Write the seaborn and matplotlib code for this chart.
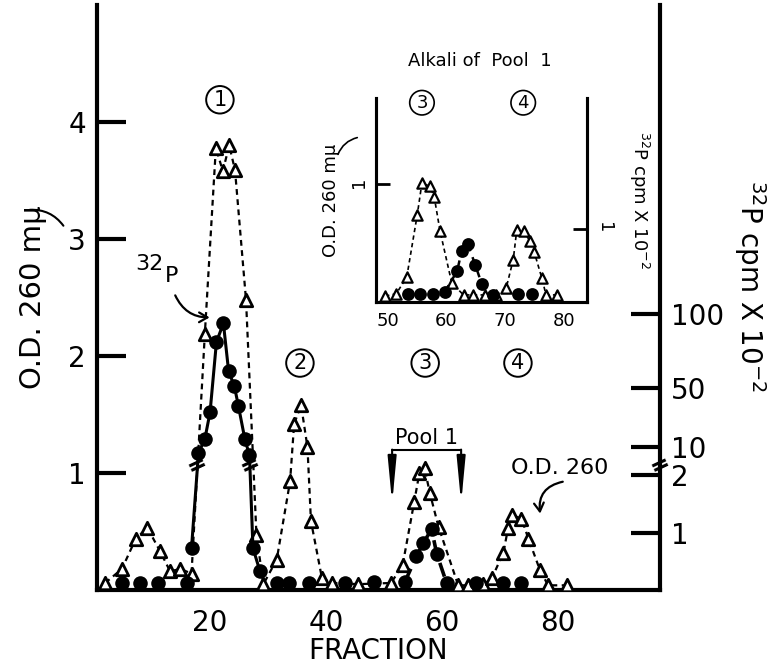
import numpy as np
import pandas as pd
import matplotlib
matplotlib.use("Agg")
import matplotlib.pyplot as plt
from matplotlib.patches import FancyArrowPatch
import seaborn as sns

sns.set_style("white")
plt.rcParams["font.family"] = ["DejaVu Sans"]
plt.rcParams["mathtext.fontset"] = "dejavusans"
for key in ("text.color", "axes.labelcolor", "xtick.color", "ytick.color", "axes.edgecolor"):
    plt.rcParams[key] = "black"

# --- main column: O.D. 260 (open triangles)
od_frac = [1.9, 4.8, 7.2, 9.2, 11.4, 13.1, 14.9, 16.8, 19.1, 21.0, 22.2, 23.3,
           24.3, 26.2, 28.0, 29.2, 31.5, 33.8, 34.5, 35.7, 36.8, 37.4, 39.3, 41.0,
           45.6, 51.2, 53.2, 55.2, 56.1, 57.0, 57.9, 59.4, 62.8, 64.5, 67.1, 68.6,
           70.6, 71.4, 72.1, 73.7, 74.9, 76.9, 78.3, 81.5]
od_val = [0.06, 0.18, 0.44, 0.53, 0.33, 0.16, 0.18, 0.14, 2.19, 3.78, 3.58, 3.80,
          3.59, 2.48, 0.47, 0.05, 0.26, 0.93, 1.42, 1.58, 1.22, 0.59, 0.10, 0.06,
          0.05, 0.06, 0.21, 0.75, 1.00, 1.04, 0.83, 0.54, 0.04, 0.04, 0.05, 0.10,
          0.32, 0.53, 0.64, 0.61, 0.44, 0.17, 0.04, 0.04]

# --- main column: 32P cpm x 10^-2 (filled circles)
p_frac = [4.8, 7.9, 11.1, 16.0, 16.8, 18.0, 19.1, 20.0, 21.1, 22.3, 23.2, 24.2,
          24.9, 26.0, 26.8, 27.4, 28.6, 31.5, 33.7, 37.0, 43.3, 48.3, 53.6, 55.6,
          56.8, 58.2, 59.1, 60.8, 65.9, 70.6, 73.7]
p_cpm = [0.12, 0.12, 0.12, 0.12, 0.73, 6.0, 15.5, 33.7, 81.3, 94.0, 61.5, 51.2,
         37.7, 15.5, 4.4, 0.73, 0.33, 0.12, 0.12, 0.12, 0.12, 0.14, 0.14, 0.59,
         0.82, 1.06, 0.63, 0.12, 0.12, 0.12, 0.12]

# --- inset: alkali of pool 1
in_od_frac = [49.5, 51.4, 53.2, 55.0, 55.8, 57.2, 57.9, 58.9, 60.9, 62.9, 64.5,
              66.6, 68.5, 70.2, 71.4, 72.0, 73.2, 74.2, 75.0, 76.3, 77.0, 78.8]
in_od_val = [0.05, 0.07, 0.21, 0.74, 1.01, 0.98, 0.89, 0.60, 0.16, 0.06, 0.06,
             0.06, 0.06, 0.12, 0.36, 0.61, 0.60, 0.52, 0.42, 0.20, 0.06, 0.06]
in_p_frac = [53.5, 55.5, 57.7, 59.7, 61.8, 62.6, 63.6, 64.9, 66.0, 68.0, 72.2, 74.6]
in_p_cpm = [0.11, 0.11, 0.11, 0.14, 0.42, 0.70, 0.80, 0.51, 0.25, 0.10, 0.11, 0.11]

od = pd.DataFrame({"fraction": od_frac, "od": od_val})
p32 = pd.DataFrame({"fraction": p_frac, "cpm": p_cpm})
in_od = pd.DataFrame({"fraction": in_od_frac, "od": in_od_val})
in_p32 = pd.DataFrame({"fraction": in_p_frac, "cpm": in_p_cpm})


# broken 32P scale: 0-2 on a stretched lower part, 2-300 linear above the break
def cpm_fwd(c):
    c = np.asarray(c, dtype=float)
    return np.where(c <= 2, 0.49 * c, 1.095 + 0.0126 * c)


def cpm_inv(v):
    v = np.asarray(v, dtype=float)
    return np.where(v <= 0.98, v / 0.49,
                    np.where(v >= 1.1202, (v - 1.095) / 0.0126, 2.0))


tri = dict(marker="^", s=80, color="white", edgecolor="black", linewidth=2.0, zorder=4)
dot = dict(marker="o", s=110, color="black", edgecolor="black", linewidth=0, zorder=5)
dash = (0, (2.6, 2.0))

fig = plt.figure(figsize=(7.69, 6.67), dpi=100)
ax = fig.add_axes([97 / 769, 77 / 667, 563 / 769, 585 / 667])
ax.patch.set_alpha(0)

sns.lineplot(data=od, x="fraction", y="od", ax=ax, color="black", lw=1.6,
             linestyle=dash, sort=False, estimator=None, zorder=3)
sns.scatterplot(data=od, x="fraction", y="od", ax=ax, **tri)

ax2 = ax.twinx()
ax2.set_yscale("function", functions=(cpm_fwd, cpm_inv))
peak1 = p32[(p32.fraction > 16.5) & (p32.fraction < 29)]
pool = p32[(p32.fraction > 53) & (p32.fraction < 61)]
sns.lineplot(data=peak1, x="fraction", y="cpm", ax=ax2, color="black", lw=2.2,
             sort=False, estimator=None)
sns.lineplot(data=pool, x="fraction", y="cpm", ax=ax2, color="black", lw=2.6,
             linestyle=(0, (4, 2.5)), sort=False, estimator=None)
sns.scatterplot(data=p32, x="fraction", y="cpm", ax=ax2, **dot)

ax.set_xlim(0.5, 97.6)
ax.set_ylim(0, 5)
ax2.set_ylim(0, float(cpm_inv(5.0)))

for a in (ax, ax2):
    a.spines["top"].set_visible(False)
ax.spines["right"].set_visible(False)
ax2.spines["left"].set_visible(False)
ax2.spines["bottom"].set_visible(False)
for s in ("left", "bottom"):
    ax.spines[s].set_linewidth(3)
ax2.spines["right"].set_linewidth(3)

ax.set_xticks([20, 40, 60, 80])
ax.set_yticks([1, 2, 3, 4])
ax.tick_params(axis="both", direction="in", length=21, width=3, labelsize=20)
ax.tick_params(axis="x", pad=14)
ax.tick_params(axis="y", pad=8)
ax.xaxis.get_major_ticks()[1].tick1line.set_visible(False)
ax2.set_yticks([1, 2, 10, 50, 100])
ax2.set_yticklabels(["1", "2", "10", "50", "100"])
ax2.tick_params(axis="y", direction="in", length=21, width=3, labelsize=20, pad=8)

ax.set_xlabel("FRACTION", fontsize=20)
ax.xaxis.set_label_coords(0.5, -0.08)
ax.set_ylabel("O.D. 260 mμ", fontsize=21)
ax.yaxis.set_label_coords(-0.088, 0.5)
ax2.set_ylabel("$^{32}$P cpm X 10$^{-2}$", fontsize=20, rotation=270, va="bottom")
ax2.yaxis.set_label_coords(1.128, 0.52)

# scale break marks
for xb in (17.7, 26.9, 97.6):
    ax.text(xb, 1.07, "=", rotation=25, ha="center", va="center", fontsize=17,
            fontweight="bold", clip_on=False)

# peak numbers
circ = dict(boxstyle="circle,pad=0.18", fc="none", ec="black", lw=1.4)
for lab, fx, fy in (("1", 21.7, 4.19), ("2", 35.5, 1.94), ("3", 57.1, 1.94), ("4", 73.1, 1.94)):
    ax.text(fx, fy, lab, fontsize=15, ha="center", va="center", bbox=circ)

# pool bracket
ax.plot([51.4, 63.3], [1.2, 1.2], color="black", lw=1.5)
for xa in (51.4, 63.3):
    ax.annotate("", xy=(xa, 0.74), xytext=(xa, 1.2),
                arrowprops=dict(arrowstyle="-|>,head_length=1.8,head_width=0.17",
                                color="black", lw=1.5, mutation_scale=15,
                                shrinkA=0, shrinkB=0))
ax.text(57.4, 1.245, "Pool 1", fontsize=15, ha="center", va="baseline")

ax.text(80.3, 1.04, "O.D. 260", fontsize=16, ha="center", va="center")
ax.annotate("", xy=(77.0, 0.63), xytext=(81.3, 0.93),
            arrowprops=dict(arrowstyle="->,head_length=0.6,head_width=0.35", lw=1.6,
                            color="black", connectionstyle="arc3,rad=0.5"))
ax.text(9.6, 2.79, "32", fontsize=16, ha="center", va="center")
ax.text(13.3, 2.68, "P", fontsize=16, ha="center", va="center")
ax.annotate("", xy=(20.4, 2.33), xytext=(13.8, 2.54),
            arrowprops=dict(arrowstyle="->,head_length=0.6,head_width=0.35", lw=1.6,
                            color="black", connectionstyle="arc3,rad=0.35"))

# leader curves from "mμ" to the axes (figure inches)
for (xa, ya), (xb, yb), lw in (((0.27, 4.57), (0.65, 4.39), 1.5),
                               ((3.37, 5.10), (3.60, 5.30), 1.2)):
    fig.add_artist(FancyArrowPatch((xa, ya), (xb, yb), arrowstyle="-", lw=lw,
                                   color="black", transform=fig.dpi_scale_trans,
                                   connectionstyle="arc3,rad=-0.3"))

# --- inset
axi = fig.add_axes([376 / 769, 365 / 667, 211 / 769, 204 / 667])
axi.patch.set_alpha(0)
sns.lineplot(data=in_od, x="fraction", y="od", ax=axi, color="black", lw=1.2,
             linestyle=dash, sort=False, estimator=None, zorder=3)
sns.scatterplot(data=in_od, x="fraction", y="od", ax=axi,
                **{**tri, "s": 55, "linewidth": 1.6})
axi2 = axi.twinx()
in_pk = in_p32[(in_p32.fraction > 59) & (in_p32.fraction < 69)]
sns.lineplot(data=in_pk, x="fraction", y="cpm", ax=axi2, color="black", lw=1.8,
             linestyle=(0, (3, 2.5)), sort=False, estimator=None)
sns.scatterplot(data=in_p32, x="fraction", y="cpm", ax=axi2, **{**dot, "s": 85})

axi.set_xlim(47.95, 84.0)
axi.set_ylim(0, 1.73)
axi2.set_ylim(0, 2.79)
for a in (axi, axi2):
    a.spines["top"].set_visible(False)
    for s in ("left", "bottom", "right"):
        a.spines[s].set_linewidth(2.2)
axi.set_xticks([50, 60, 70, 80])
axi.set_yticks([1])
axi2.set_yticks([1])
axi.tick_params(axis="x", length=0, labelsize=13, pad=7)
axi.tick_params(axis="y", direction="in", length=10, width=2, labelsize=13,
                pad=6, labelrotation=90)
axi2.tick_params(axis="y", direction="in", length=10, width=2, labelsize=13,
                 pad=6, labelrotation=270)
axi.set_xlabel("")
axi.set_ylabel("O.D. 260 mμ", fontsize=13)
axi.yaxis.set_label_coords(-0.17, 0.5)
axi2.set_ylabel("$^{32}$P cpm X 10$^{-2}$", fontsize=13, rotation=270, va="bottom")
axi2.yaxis.set_label_coords(1.19, 0.5)
axi.text(0.49, 1.18, "Alkali of  Pool  1", transform=axi.transAxes, fontsize=13,
         ha="center", va="center")
circ_s = dict(boxstyle="circle,pad=0.18", fc="none", ec="black", lw=1.2)
for lab, fx in (("3", 55.8), ("4", 73.1)):
    axi.text(fx, 1.69, lab, fontsize=13, ha="center", va="center", bbox=circ_s)

fig.savefig("out.png", dpi=100)
